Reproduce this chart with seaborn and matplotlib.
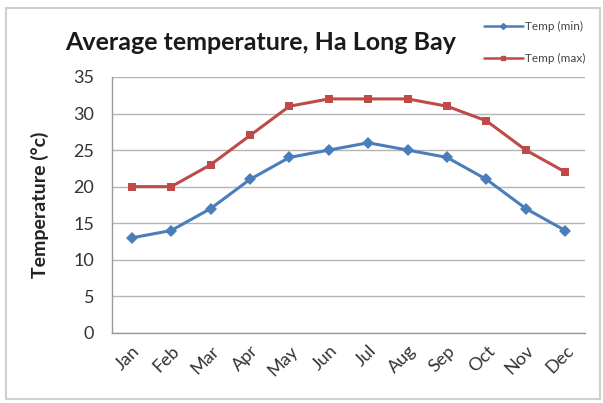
import pandas as pd
import seaborn as sns
import matplotlib.pyplot as plt

# Monthly averages
months = ['Jan', 'Feb', 'Mar', 'Apr', 'May', 'Jun', 'Jul', 'Aug', 'Sep', 'Oct', 'Nov', 'Dec']
temp_min = [13, 14, 17, 21, 24, 25, 26, 25, 24, 21, 17, 14]
temp_max = [20, 20, 23, 27, 31, 32, 32, 32, 31, 29, 25, 22]
y_ticks = [0, 5, 10, 15, 20, 25, 30, 35]

df = pd.DataFrame({'month': months * 2,
                   'temp': temp_min + temp_max,
                   'series': ['Temp (min)'] * 12 + ['Temp (max)'] * 12})

sns.set_style('white')
plt.rcParams['font.family'] = ['Lato', 'DejaVu Sans']

fig = plt.figure(figsize=(6.03, 4.03), dpi=100)
ax = fig.add_axes([0.186, 0.174, 0.784, 0.635])

sns.lineplot(data=df, x='month', y='temp', hue='series', style='series',
             palette={'Temp (min)': '#4a7ebb', 'Temp (max)': '#be4b48'},
             markers={'Temp (min)': 'D', 'Temp (max)': 's'},
             dashes=False, markersize=6, markeredgewidth=0, linewidth=2.2,
             sort=False, ax=ax, legend=False)

ax.set_xlim(-0.5, 11.5)
ax.set_ylim(0, 35)
ax.set_yticks(y_ticks)
ax.yaxis.grid(True, color='#b5b5b5', linewidth=1)
ax.set_axisbelow(True)
for side in ['top', 'right']:
    ax.spines[side].set_visible(False)
for side in ['left', 'bottom']:
    ax.spines[side].set_color('#999999')
    ax.spines[side].set_linewidth(1)

ax.set_xticks(range(12))
ax.set_xticklabels(months, rotation=45, ha='right', rotation_mode='anchor', fontsize=13)
ax.set_xticks([i - 0.5 for i in range(13)], minor=True)
ax.tick_params(axis='x', which='minor', length=5, color='#999999', direction='out')
ax.tick_params(axis='y', length=4, color='#999999', direction='out', labelsize=13, pad=9)
ax.tick_params(axis='both', colors='#999999', labelcolor='#333333')
ax.tick_params(axis='x', which='major', length=0, pad=7)

ax.set_xlabel('')
ax.set_ylabel('Temperature (°c)', fontsize=14, fontweight='bold', labelpad=17, color='#222222')

fig.text(0.108, 0.895, 'Average temperature, Ha Long Bay', fontsize=18,
         fontweight='bold', va='center', ha='left', color='#1a1a1a')

# legend outside the plot, top right
h_min, = ax.plot([], [], color='#4a7ebb', marker='D', markersize=3, linewidth=1.8)
h_max, = ax.plot([], [], color='#be4b48', marker='s', markersize=3, linewidth=1.8)
fig.legend([h_min, h_max], ['Temp (min)', 'Temp (max)'], loc='upper left',
           bbox_to_anchor=(0.785, 0.975), frameon=False, fontsize=8.5,
           handlelength=3.3, handletextpad=0.2, labelspacing=1.8,
           labelcolor='#444444')

# thin grey frame round the whole picture
fig.patches.append(plt.Rectangle((0.01, 0.01), 0.985, 0.97, transform=fig.transFigure,
                                 fill=False, edgecolor='#d0d0d0', linewidth=1.5))

fig.savefig('out.png', dpi=100)
